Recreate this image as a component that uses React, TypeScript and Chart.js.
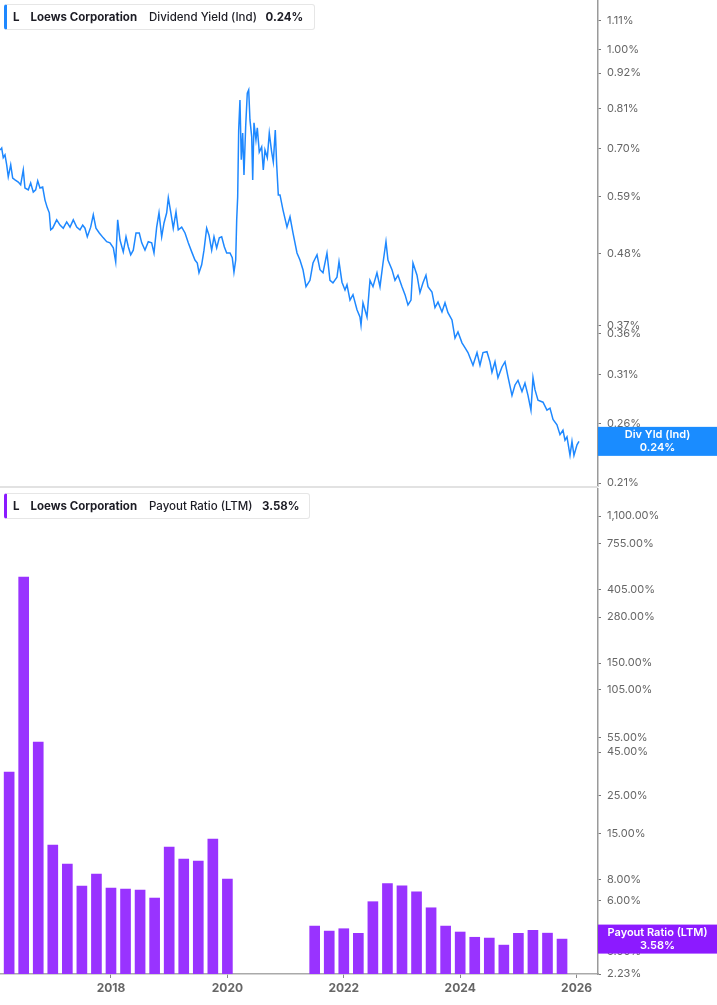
import { useEffect, useRef } from 'react';
import { Chart, registerables } from 'chart.js';

Chart.register(...registerables);

// dividend yield (%), as decimal years
const yieldDates = [
  2016.093, 2016.122, 2016.149, 2016.179, 2016.208, 2016.235, 2016.277, 2016.311, 2016.351, 2016.407,
  2016.448, 2016.493, 2016.522, 2016.579, 2016.62, 2016.665, 2016.706, 2016.741, 2016.78, 2016.826,
  2016.866, 2016.906, 2016.94, 2016.964, 2016.998, 2017.067, 2017.124, 2017.18, 2017.239, 2017.296,
  2017.352, 2017.411, 2017.467, 2017.514, 2017.553, 2017.593, 2017.651, 2017.696, 2017.742, 2017.799,
  2017.868, 2017.926, 2017.983, 2018.04, 2018.081, 2018.115, 2018.155, 2018.211, 2018.258, 2018.297,
  2018.339, 2018.383, 2018.43, 2018.486, 2018.528, 2018.584, 2018.641, 2018.699, 2018.739, 2018.785,
  2018.825, 2018.871, 2018.911, 2018.957, 2018.985, 2019.026, 2019.07, 2019.117, 2019.156, 2019.215,
  2019.272, 2019.328, 2019.387, 2019.443, 2019.483, 2019.512, 2019.558, 2019.598, 2019.644, 2019.684,
  2019.73, 2019.77, 2019.816, 2019.861, 2019.902, 2019.947, 2019.988, 2020.045, 2020.084, 2020.113,
  2020.143, 2020.16, 2020.177, 2020.194, 2020.216, 2020.239, 2020.263, 2020.285, 2020.314, 2020.342,
  2020.366, 2020.388, 2020.418, 2020.435, 2020.457, 2020.491, 2020.514, 2020.548, 2020.589, 2020.617,
  2020.646, 2020.686, 2020.72, 2020.761, 2020.789, 2020.823, 2020.847, 2020.875, 2020.904, 2020.955,
  2021.024, 2021.076, 2021.127, 2021.196, 2021.247, 2021.299, 2021.351, 2021.419, 2021.471, 2021.54,
  2021.591, 2021.643, 2021.711, 2021.763, 2021.814, 2021.883, 2021.918, 2021.969, 2022.021, 2022.055,
  2022.107, 2022.158, 2022.227, 2022.278, 2022.296, 2022.33, 2022.399, 2022.45, 2022.502, 2022.57,
  2022.622, 2022.674, 2022.725, 2022.759, 2022.828, 2022.88, 2022.931, 2023.0, 2023.052, 2023.103,
  2023.155, 2023.189, 2023.258, 2023.309, 2023.361, 2023.412, 2023.447, 2023.515, 2023.567, 2023.619,
  2023.687, 2023.739, 2023.79, 2023.859, 2023.911, 2023.962, 2024.031, 2024.082, 2024.134, 2024.22,
  2024.289, 2024.34, 2024.392, 2024.46, 2024.512, 2024.546, 2024.598, 2024.649, 2024.718, 2024.77,
  2024.821, 2024.89, 2024.942, 2024.993, 2025.062, 2025.113, 2025.165, 2025.216, 2025.251, 2025.285,
  2025.337, 2025.423, 2025.491, 2025.543, 2025.595, 2025.663, 2025.715, 2025.766, 2025.801, 2025.835,
  2025.887, 2025.921, 2025.955, 2026.007, 2026.041,
];

const yieldValues = [
  0.697, 0.702, 0.678, 0.685, 0.661, 0.633, 0.661, 0.63, 0.626, 0.621,
  0.615, 0.649, 0.608, 0.604, 0.619, 0.599, 0.604, 0.624, 0.608, 0.61,
  0.582, 0.566, 0.556, 0.523, 0.526, 0.542, 0.532, 0.526, 0.538, 0.528,
  0.542, 0.528, 0.523, 0.532, 0.526, 0.51, 0.528, 0.552, 0.526, 0.517,
  0.508, 0.501, 0.499, 0.49, 0.466, 0.542, 0.504, 0.483, 0.51, 0.492,
  0.478, 0.486, 0.517, 0.517, 0.499, 0.486, 0.501, 0.499, 0.481, 0.528,
  0.556, 0.51, 0.536, 0.556, 0.587, 0.558, 0.526, 0.558, 0.523, 0.528,
  0.517, 0.499, 0.483, 0.469, 0.464, 0.448, 0.461, 0.486, 0.526, 0.513,
  0.486, 0.51, 0.49, 0.508, 0.51, 0.492, 0.481, 0.481, 0.473, 0.449,
  0.469, 0.542, 0.589, 0.749, 0.835, 0.673, 0.741, 0.637, 0.758, 0.856,
  0.866, 0.777, 0.731, 0.626, 0.769, 0.723, 0.755, 0.692, 0.705, 0.649,
  0.697, 0.678, 0.741, 0.692, 0.668, 0.749, 0.661, 0.593, 0.593, 0.562,
  0.528, 0.548, 0.517, 0.481, 0.469, 0.453, 0.426, 0.436, 0.464, 0.478,
  0.453, 0.448, 0.481, 0.436, 0.432, 0.441, 0.466, 0.433, 0.421, 0.429,
  0.406, 0.414, 0.392, 0.382, 0.371, 0.402, 0.382, 0.436, 0.426, 0.448,
  0.426, 0.464, 0.501, 0.469, 0.453, 0.436, 0.444, 0.426, 0.414, 0.399,
  0.406, 0.464, 0.444, 0.417, 0.432, 0.444, 0.426, 0.418, 0.395, 0.403,
  0.389, 0.402, 0.388, 0.378, 0.354, 0.362, 0.348, 0.342, 0.336, 0.321,
  0.336, 0.321, 0.336, 0.337, 0.325, 0.313, 0.325, 0.307, 0.319, 0.325,
  0.308, 0.288, 0.299, 0.304, 0.292, 0.301, 0.288, 0.273, 0.307, 0.294,
  0.283, 0.281, 0.273, 0.275, 0.264, 0.259, 0.25, 0.254, 0.245, 0.248,
  0.232, 0.244, 0.232, 0.241, 0.244,
];

// payout ratio LTM (%), one bar per quarter end
const payoutDates = [
  2016.25, 2016.5, 2016.75, 2017.0, 2017.25, 2017.5, 2017.75, 2018.0,
  2018.25, 2018.5, 2018.75, 2019.0, 2019.25, 2019.5, 2019.75, 2020.0,
  2021.5, 2021.75, 2022.0, 2022.25, 2022.5, 2022.75, 2023.0, 2023.25, 2023.5,
  2023.75, 2024.0, 2024.25, 2024.5, 2024.75, 2025.0, 2025.25, 2025.5, 2025.75,
];
const payoutValues = [
  34.4, 481, 51.6, 12.8, 9.89, 7.34, 8.64, 7.14,
  7.05, 6.95, 6.24, 12.45, 10.58, 10.3, 13.87, 8.07,
  4.27, 3.99, 4.12, 3.87, 5.94, 7.58, 7.37, 6.79, 5.47,
  4.27, 3.94, 3.67, 3.63, 3.3, 3.87, 4.03, 3.88, 3.58,
];

const yieldTicks = [0.21, 0.26, 0.31, 0.36, 0.37, 0.48, 0.59, 0.7, 0.81, 0.92, 1.0, 1.11];
const payoutTicks = [2.23, 3, 6, 8, 15, 25, 45, 55, 105, 150, 280, 405, 755, 1100];
const yearTicks = [2018, 2020, 2022, 2024, 2026];

const X_MIN = 2016.093;
const X_MAX = 2026.368;
const BLUE = '#1e88ff';
const PURPLE = '#9933ff';

Chart.defaults.font.family = 'Inter, "Noto Sans", sans-serif';

function valueTag(title: string, color: string) {
  return {
    id: 'valueTag',
    afterDraw(chart: any) {
      const { ctx, chartArea } = chart;
      const pts = chart.data.datasets[0].data;
      const last = pts[pts.length - 1];
      const y = chart.scales.y.getPixelForValue(last.y);
      const x0 = chartArea.right;
      const w = chart.width - x0;
      ctx.save();
      ctx.fillStyle = color;
      ctx.fillRect(x0, y - 14.5, w, 29);
      ctx.fillStyle = '#fff';
      ctx.font = '600 11px Inter, sans-serif';
      ctx.textAlign = 'center';
      ctx.textBaseline = 'middle';
      ctx.fillText(title, x0 + w / 2, y - 6.5);
      ctx.fillText(last.y.toFixed(2) + '%', x0 + w / 2, y + 6.5);
      ctx.restore();
    },
  };
}

function rightLogAxis(min: number, max: number, ticks: number[]) {
  return {
    type: 'logarithmic' as const,
    position: 'right' as const,
    min,
    max,
    afterBuildTicks: (s: any) => {
      s.ticks = ticks.map((v) => ({ value: v }));
    },
    afterFit: (s: any) => {
      s.width = 119;
      s.paddingTop = 0;
      s.paddingBottom = 0;
    },
    grid: { display: true, drawOnChartArea: false, drawTicks: true, tickLength: 3, color: '#777' },
    border: { display: true, color: '#9a9a9a', width: 1.5 },
    ticks: {
      autoSkip: false,
      padding: 6,
      color: '#666',
      font: { size: 11 },
      callback: (v: any) =>
        Number(v).toLocaleString('en-US', { minimumFractionDigits: 2, maximumFractionDigits: 2 }) + '%',
    },
  };
}

function LegendBox({ top, width, color, metric, value, valueLeft }: any) {
  const span = (left: number, weight: number, text: string) => (
    <span style={{ position: 'absolute', left, top: 0, lineHeight: '24px', fontWeight: weight, whiteSpace: 'nowrap' }}>
      {text}
    </span>
  );
  return (
    <div
      style={{
        position: 'absolute',
        left: 4,
        top,
        width,
        height: 26,
        boxSizing: 'border-box',
        background: '#fff',
        border: '1px solid #e6e6e6',
        borderLeft: `3px solid ${color}`,
        borderRadius: 3,
        fontFamily: 'Inter, sans-serif',
        fontSize: 11.5,
        color: '#1c1c24',
      }}
    >
      {span(6, 700, 'L')}
      {span(23.5, 700, 'Loews Corporation')}
      {span(142, 500, metric)}
      {span(valueLeft, 700, value)}
    </div>
  );
}

export default function App() {
  const topRef = useRef<HTMLCanvasElement>(null);
  const bottomRef = useRef<HTMLCanvasElement>(null);

  useEffect(() => {
    document.body.style.margin = '0';
    if (!topRef.current || !bottomRef.current) return;

    const yieldChart = new Chart(topRef.current, {
      type: 'line',
      data: {
        datasets: [
          {
            data: yieldDates.map((d, i) => ({ x: d, y: yieldValues[i] })),
            borderColor: BLUE,
            borderWidth: 1.5,
            pointRadius: 0,
            tension: 0,
          },
        ],
      },
      options: {
        responsive: false,
        animation: false,
        layout: { padding: 0 },
        plugins: { legend: { display: false }, tooltip: { enabled: false } },
        scales: {
          x: { type: 'linear', min: X_MIN, max: X_MAX, display: false },
          y: rightLogAxis(0.207, 1.197, yieldTicks) as any,
        },
      },
      plugins: [valueTag('Div Yld (Ind)', '#1a8cff')],
    });

    const payoutChart = new Chart(bottomRef.current, {
      type: 'bar',
      data: {
        datasets: [
          {
            data: payoutDates.map((d, i) => ({ x: d, y: payoutValues[i] })),
            backgroundColor: PURPLE,
            barThickness: 10,
          },
        ],
      },
      options: {
        responsive: false,
        animation: false,
        layout: { padding: 0 },
        plugins: { legend: { display: false }, tooltip: { enabled: false } },
        scales: {
          x: {
            type: 'linear',
            min: X_MIN,
            max: X_MAX,
            offset: false,
            afterBuildTicks: (s: any) => {
              s.ticks = yearTicks.map((v) => ({ value: v }));
            },
            afterFit: (s: any) => {
              s.height = 31;
              s.paddingLeft = 0;
              s.paddingRight = 0;
            },
            grid: { display: true, offset: false, drawOnChartArea: false, drawTicks: true, tickLength: 4, color: '#888' },
            border: { display: true, color: '#aaaaaa', width: 1.5 },
            ticks: {
              autoSkip: false,
              maxRotation: 0,
              padding: 3,
              color: '#666',
              font: { size: 12, weight: 'bold' },
              callback: (v: any) => String(v),
            },
          },
          y: rightLogAxis(2.232, 1607, payoutTicks) as any,
        },
      },
      plugins: [valueTag('Payout Ratio (LTM)', '#8c1aff')],
    });

    return () => {
      yieldChart.destroy();
      payoutChart.destroy();
    };
  }, []);

  return (
    <div style={{ position: 'relative', width: 717, height: 1005, background: '#fff', overflow: 'hidden' }}>
      <canvas
        ref={topRef}
        width={717}
        height={487}
        style={{ position: 'absolute', left: 0, top: 0, width: 717, height: 487 }}
      />
      <div style={{ position: 'absolute', left: 0, top: 486, width: 598, height: 2, background: '#e2e2e2' }} />
      <canvas
        ref={bottomRef}
        width={717}
        height={517}
        style={{ position: 'absolute', left: 0, top: 488, width: 717, height: 517 }}
      />
      <LegendBox top={4} width={311} color={BLUE} metric="Dividend Yield (Ind)" value="0.24%" valueLeft={258.5} />
      <LegendBox top={493} width={306} color="#8a1aff" metric="Payout Ratio (LTM)" value="3.58%" valueLeft={255} />
    </div>
  );
}
